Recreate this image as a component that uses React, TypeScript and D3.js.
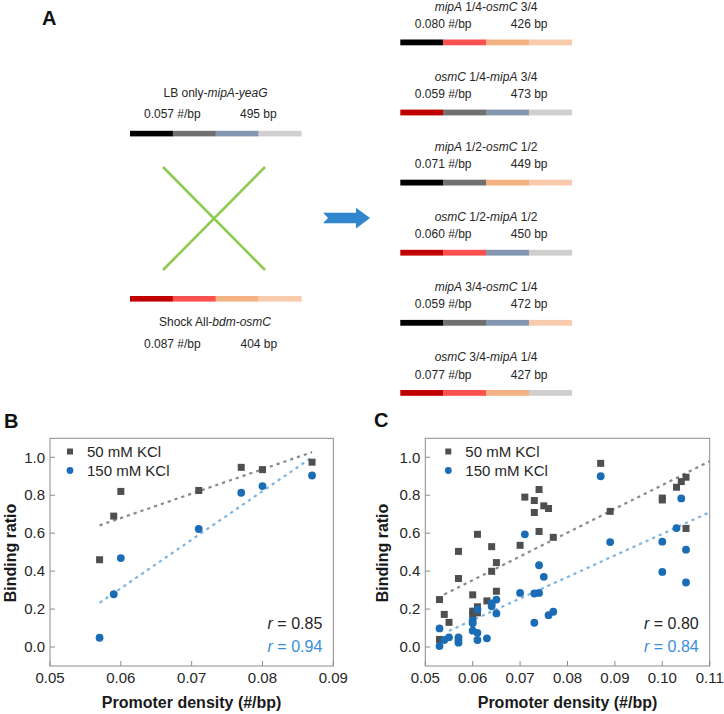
import React from "react";
import * as d3 from "d3";

// ---------- Panel A data ----------
const mipAColors = ["#000000", "#707070", "#8497B0", "#D0CECE"];
const osmCColors = ["#C00000", "#FF5050", "#F4B183", "#F8CBAD"];

const parentNames = [
  [{ t: "LB only-", i: false }, { t: "mipA-yeaG", i: true }],
  [{ t: "Shock All-", i: false }, { t: "bdm-osmC", i: true }],
];
const parentDensity = ["0.057", "0.087"];
const parentLength = [495, 404];
const parentSource = ["MMMM", "OOOO"];

const constructNames = [
  [{ t: "mipA", i: true }, { t: " 1/4-", i: false }, { t: "osmC", i: true }, { t: " 3/4", i: false }],
  [{ t: "osmC", i: true }, { t: " 1/4-", i: false }, { t: "mipA", i: true }, { t: " 3/4", i: false }],
  [{ t: "mipA", i: true }, { t: " 1/2-", i: false }, { t: "osmC", i: true }, { t: " 1/2", i: false }],
  [{ t: "osmC", i: true }, { t: " 1/2-", i: false }, { t: "mipA", i: true }, { t: " 1/2", i: false }],
  [{ t: "mipA", i: true }, { t: " 3/4-", i: false }, { t: "osmC", i: true }, { t: " 1/4", i: false }],
  [{ t: "osmC", i: true }, { t: " 3/4-", i: false }, { t: "mipA", i: true }, { t: " 1/4", i: false }],
];
const constructDensity = ["0.080", "0.059", "0.071", "0.060", "0.059", "0.077"];
const constructLength = [426, 473, 449, 450, 472, 427];
const constructSource = ["MOOO", "OMMM", "MMOO", "OOMM", "MMMO", "OOOM"];

// ---------- Panel B data ----------
const bLow: [number, number][] = [
  [0.057, 0.46], [0.059, 0.69], [0.060, 0.82], [0.071, 0.825],
  [0.077, 0.947], [0.080, 0.935], [0.087, 0.974],
];
const bHigh: [number, number][] = [
  [0.057, 0.049], [0.059, 0.278], [0.060, 0.469], [0.071, 0.622],
  [0.077, 0.813], [0.080, 0.848], [0.087, 0.904],
];
const bFitLow: [number, number][] = [[0.057, 0.641], [0.087, 1.027]];
const bFitHigh: [number, number][] = [[0.057, 0.233], [0.087, 1.0]];
const bR = ["0.85", "0.94"];

// ---------- Panel C data ----------
const cLow: [number, number][] = [
  [0.053, 0.25], [0.053, 0.04], [0.054, 0.172], [0.055, 0.13], [0.057, 0.504],
  [0.057, 0.361], [0.060, 0.275], [0.060, 0.189], [0.060, 0.17], [0.061, 0.594],
  [0.061, 0.212], [0.061, 0.18], [0.063, 0.243], [0.064, 0.529], [0.064, 0.399],
  [0.065, 0.445], [0.065, 0.294], [0.070, 0.536], [0.071, 0.79], [0.073, 0.772],
  [0.073, 0.709], [0.074, 0.83], [0.074, 0.609], [0.075, 0.744], [0.076, 0.73],
  [0.077, 0.578], [0.087, 0.968], [0.089, 0.715], [0.100, 0.785], [0.100, 0.775],
  [0.103, 0.842], [0.104, 0.872], [0.105, 0.895], [0.105, 0.625],
];
const cHigh: [number, number][] = [
  [0.053, 0.098], [0.053, 0.005], [0.054, 0.037], [0.055, 0.051], [0.057, 0.051],
  [0.057, 0.037], [0.057, 0.023], [0.060, 0.14], [0.060, 0.125], [0.060, 0.086],
  [0.061, 0.198], [0.061, 0.075], [0.061, 0.037], [0.063, 0.046], [0.064, 0.23],
  [0.064, 0.215], [0.065, 0.25], [0.065, 0.177], [0.070, 0.285], [0.071, 0.594],
  [0.073, 0.282], [0.073, 0.128], [0.074, 0.285], [0.074, 0.431], [0.075, 0.37],
  [0.076, 0.168], [0.077, 0.186], [0.087, 0.9], [0.089, 0.553], [0.100, 0.555],
  [0.100, 0.396], [0.103, 0.627], [0.104, 0.783], [0.105, 0.513], [0.105, 0.34],
];
const cFitLow: [number, number][] = [[0.054, 0.277], [0.11, 0.979]];
const cFitHigh: [number, number][] = [[0.055, 0.085], [0.11, 0.71]];
const cR = ["0.80", "0.84"];

const yTicks = [0, 0.2, 0.4, 0.6, 0.8, 1.0];
const bXTicks = [0.05, 0.06, 0.07, 0.08, 0.09];
const cXTicks = [0.05, 0.06, 0.07, 0.08, 0.09, 0.1, 0.11];
const legendLabels = ["50 mM KCl", "150 mM KCl"];

const FONT = "'Liberation Sans', Arial, Helvetica, sans-serif";
const TXT = "#262626";
const SQ = "#4f4f4f";
const CI = "#1a6db5";
const FIT_GRAY = "#8a8a8a";
const FIT_BLUE = "#7fb4e0";
const R_BLUE = "#3a8fdc";

type Seg = { t: string; i: boolean };

function RichText({ x, y, segs, size, anchor }: { x: number; y: number; segs: Seg[]; size: number; anchor: string }) {
  return (
    <text x={x} y={y} fontSize={size} fontFamily={FONT} fill={TXT} textAnchor={anchor}>
      {segs.map((s, k) => (
        <tspan key={k} fontStyle={s.i ? "italic" : "normal"}>{s.t}</tspan>
      ))}
    </text>
  );
}

function Bar({ x, y, w, h, source }: { x: number; y: number; w: number; h: number; source: string }) {
  const xs = d3.scaleBand<number>().domain([0, 1, 2, 3]).range([x, x + w]);
  return (
    <g>
      {source.split("").map((s, k) => (
        <rect key={k} x={xs(k)!} y={y} width={xs.bandwidth() + 0.3} height={h}
          fill={s === "M" ? mipAColors[k] : osmCColors[k]} />
      ))}
    </g>
  );
}

function Construct({ barX, barY, names, dens, len, source, titleGap, numGap }: any) {
  const w = 171.5;
  return (
    <g>
      <RichText x={barX + w / 2} y={barY - titleGap} segs={names} size={12} anchor="middle" />
      <text x={barX + 14.5} y={barY - numGap} fontSize={12} fontFamily={FONT} fill={TXT}>{dens} #/bp</text>
      <text x={barX + 110.5} y={barY - numGap} fontSize={12} fontFamily={FONT} fill={TXT}>{len} bp</text>
      <Bar x={barX} y={barY} w={w} h={5.8} source={source} />
    </g>
  );
}

function Scatter({ left, right, top, bottom, xDomain, xTicks, low, high, fitLow, fitHigh, rVals, legendX, yLabelRight, yTitleX }: any) {
  const x = d3.scaleLinear().domain(xDomain).range([left, right]);
  const y = d3.scaleLinear().domain([-0.1, 1.1]).range([bottom, top]);
  const line = d3.line<[number, number]>().x((d) => x(d[0])).y((d) => y(d[1]));
  const fmtY = d3.format(".1f");
  const fmtX = d3.format(".2f");
  const sq = 7;
  return (
    <g fontFamily={FONT}>
      <rect x={left} y={top} width={right - left} height={bottom - top} fill="none" stroke="#8c8c8c" strokeWidth={1} />
      {yTicks.map((t) => (
        <g key={"y" + t}>
          <line x1={left} x2={left + 5} y1={y(t)} y2={y(t)} stroke="#8c8c8c" />
          <text x={yLabelRight} y={y(t)} dy="0.35em" textAnchor="end" fontSize={15} fill={TXT}>{fmtY(t)}</text>
        </g>
      ))}
      {xTicks.map((t: number) => (
        <g key={"x" + t}>
          <line x1={x(t)} x2={x(t)} y1={bottom} y2={bottom - 5} stroke="#8c8c8c" />
          <text x={x(t)} y={bottom + 17} textAnchor="middle" fontSize={15} fill={TXT}>{fmtX(t)}</text>
        </g>
      ))}
      <path d={line(fitLow)!} stroke={FIT_GRAY} strokeWidth={2.2} strokeDasharray="3.2 4" fill="none" />
      <path d={line(fitHigh)!} stroke={FIT_BLUE} strokeWidth={2.2} strokeDasharray="3.2 4" fill="none" />
      {low.map((d: [number, number], k: number) => (
        <rect key={"s" + k} x={x(d[0]) - sq / 2} y={y(d[1]) - sq / 2} width={sq} height={sq} fill={SQ} />
      ))}
      {high.map((d: [number, number], k: number) => (
        <circle key={"c" + k} cx={x(d[0])} cy={y(d[1])} r={3.9} fill={CI} />
      ))}
      {/* legend */}
      <rect x={legendX - 3} y={451.5 - 3} width={6} height={6} fill={SQ} />
      <text x={legendX + 17} y={456.5} fontSize={15} fill={TXT}>{legendLabels[0]}</text>
      <circle cx={legendX} cy={470.5} r={3.4} fill={CI} />
      <text x={legendX + 17} y={475.5} fontSize={15} fill={TXT}>{legendLabels[1]}</text>
      {/* r values */}
      <text x={right - 11} y={628.5} textAnchor="end" fontSize={16} fill={TXT}>
        <tspan fontStyle="italic">r</tspan> = {rVals[0]}
      </text>
      <text x={right - 11} y={652} textAnchor="end" fontSize={16} fill={R_BLUE}>
        <tspan fontStyle="italic">r</tspan> = {rVals[1]}
      </text>
      {/* axis titles */}
      <text x={(left + right) / 2} y={708} textAnchor="middle" fontSize={16} fontWeight="bold" fill="#1a1a1a">
        Promoter density (#/bp)
      </text>
      <text transform={`translate(${yTitleX},553) rotate(-90)`} textAnchor="middle" fontSize={16} fontWeight="bold" fill="#1a1a1a">
        Binding ratio
      </text>
    </g>
  );
}

export default function App() {
  const barYs = constructNames.map((_, i) => 39.5 + i * 70.1);
  return (
    <svg width={724} height={714} viewBox="0 0 724 714"
      style={{ position: "absolute", left: 0, top: 0, background: "#fff" }}>
      <rect x={0} y={0} width={724} height={714} fill="#fff" />
      {/* panel labels */}
      <text x={42} y={25} fontSize={20} fontWeight="bold" fontFamily={FONT} fill="#111">A</text>
      <text x={4} y={428} fontSize={20} fontWeight="bold" fontFamily={FONT} fill="#111">B</text>
      <text x={374} y={427} fontSize={20} fontWeight="bold" fontFamily={FONT} fill="#111">C</text>

      {/* Left parents */}
      <RichText x={215.5} y={97} segs={parentNames[0]} size={12} anchor="middle" />
      <text x={144} y={118} fontSize={12} fontFamily={FONT} fill={TXT}>{parentDensity[0]} #/bp</text>
      <text x={240} y={118} fontSize={12} fontFamily={FONT} fill={TXT}>{parentLength[0]} bp</text>
      <Bar x={130} y={130.8} w={171.3} h={5.6} source={parentSource[0]} />

      <line x1={163} y1={167} x2={265} y2={270} stroke="#8DCB52" strokeWidth={2.6} />
      <line x1={265} y1={167} x2={163} y2={270} stroke="#8DCB52" strokeWidth={2.6} />

      <Bar x={130} y={296} w={171.3} h={5.6} source={parentSource[1]} />
      <RichText x={215} y={325.5} segs={parentNames[1]} size={12} anchor="middle" />
      <text x={144} y={347.5} fontSize={12} fontFamily={FONT} fill={TXT}>{parentDensity[1]} #/bp</text>
      <text x={240.5} y={347.5} fontSize={12} fontFamily={FONT} fill={TXT}>{parentLength[1]} bp</text>

      {/* arrow */}
      <polygon points="323,212.7 356,212.7 356,207.7 370,218 356,228.5 356,223.3 323,223.3 328,218" fill="#2F86CC" />

      {/* Right constructs */}
      {constructNames.map((n, i) => (
        <Construct key={i} barX={400.3} barY={barYs[i]} names={n} dens={constructDensity[i]}
          len={constructLength[i]} source={constructSource[i]} titleGap={29} numGap={11.5} />
      ))}

      <Scatter left={50} right={333.3} top={438.3} bottom={666} xDomain={[0.05, 0.09]} xTicks={bXTicks}
        low={bLow} high={bHigh} fitLow={bFitLow} fitHigh={bFitHigh} rVals={bR}
        legendX={70} yLabelRight={45} yTitleX={16} />
      <Scatter left={425.3} right={709.7} top={438.3} bottom={666} xDomain={[0.05, 0.11]} xTicks={cXTicks}
        low={cLow} high={cHigh} fitLow={cFitLow} fitHigh={cFitHigh} rVals={cR}
        legendX={448.3} yLabelRight={420.3} yTitleX={388} />
    </svg>
  );
}
